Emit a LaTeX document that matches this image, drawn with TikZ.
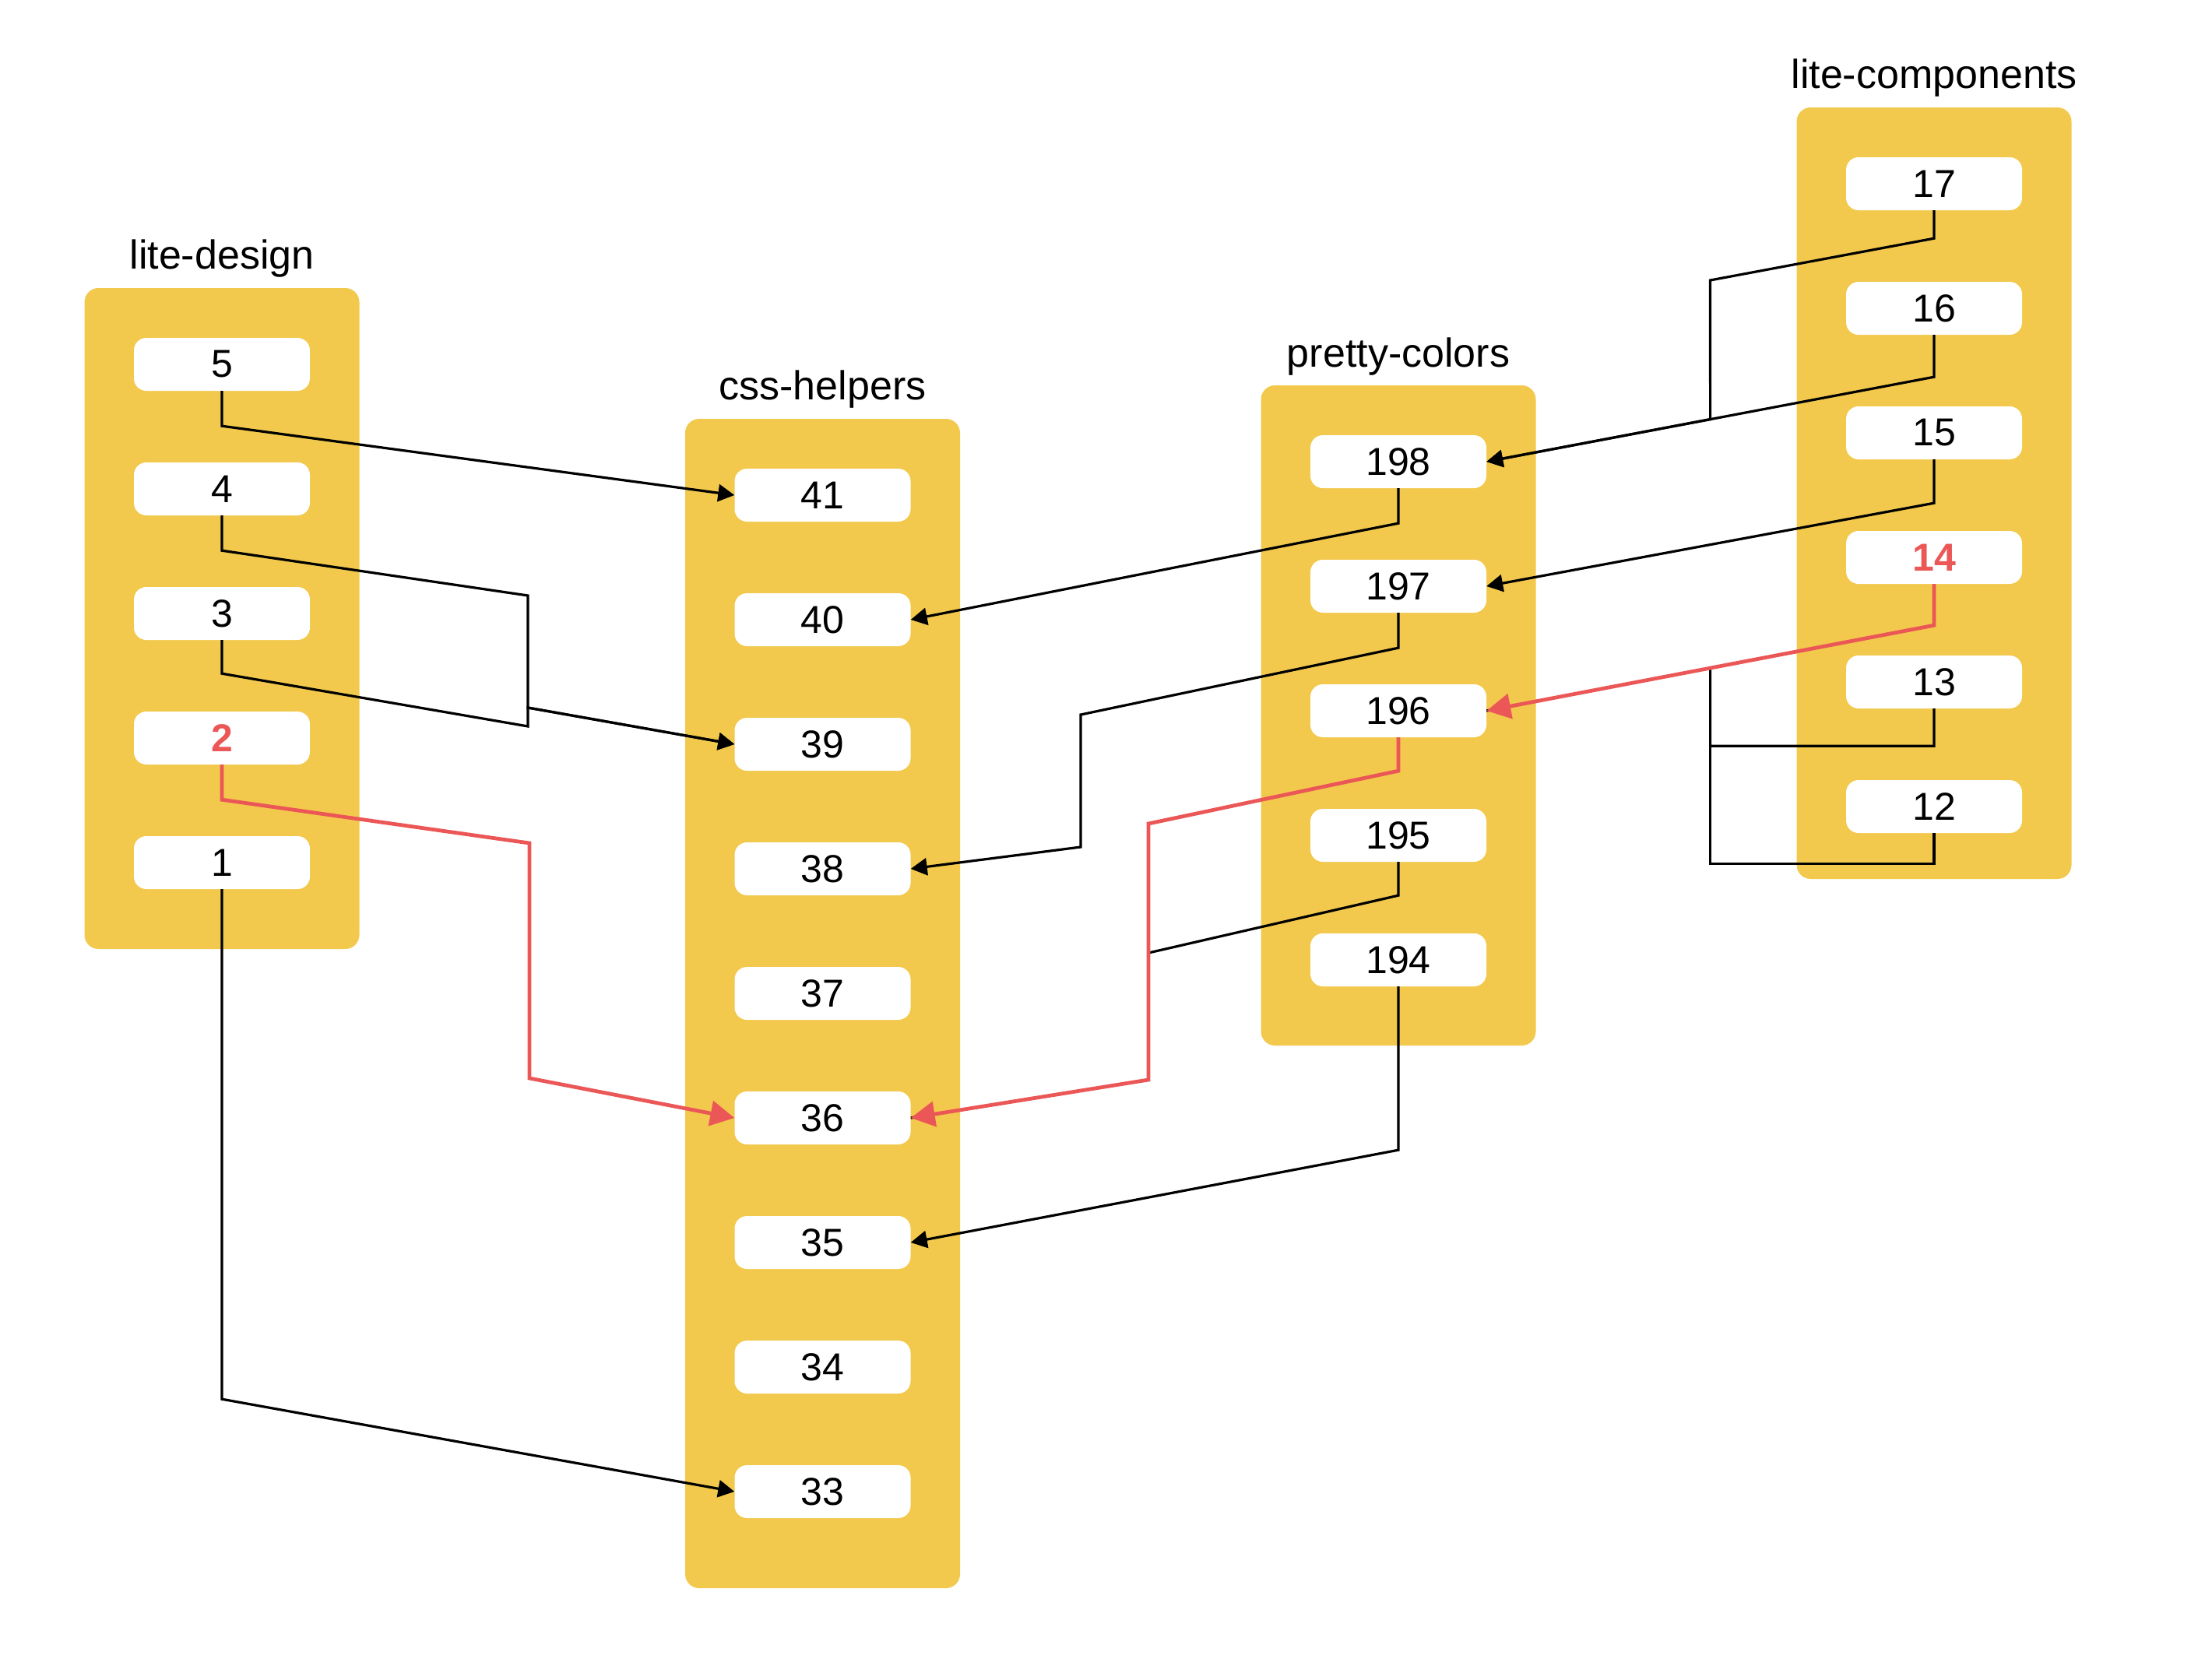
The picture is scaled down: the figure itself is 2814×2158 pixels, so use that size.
\documentclass[tikz,border=0pt]{standalone}
\usepackage{fontspec}
\setmainfont{Liberation Sans}
\usetikzlibrary{arrows.meta,calc}
\definecolor{pyellow}{HTML}{F2C94C}
\definecolor{pred}{HTML}{EB5757}
\begin{document}
\begin{tikzpicture}[x=1pt,y=-1pt,
  panel/.style={fill=pyellow, rounded corners=18pt, minimum width=353pt, inner sep=0pt},
  item/.style={fill=white, rounded corners=16pt, minimum width=226pt, minimum height=68pt, inner sep=0pt, font=\fontsize{50}{60}\selectfont},
  hot/.style={text=pred, font=\fontsize{50}{60}\selectfont\bfseries},
  title/.style={anchor=base, inner sep=0pt, font=\fontsize{52}{62}\selectfont},
  conn/.style={draw=black, line width=3.2pt},
  arr/.style={conn, -{Triangle[length=21pt,width=22pt]}},
  redarr/.style={draw=pred, line width=4.8pt, -{Triangle[length=31pt,width=32pt]}},
]
\useasboundingbox (0,0) rectangle (2814,2158);

% panels
\node[panel, minimum height=849pt]  (LD) at (285,794.5) {};
\node[panel, minimum height=1502pt] (CH) at (1056.5,1289) {};
\node[panel, minimum height=848pt]  (PC) at (1796,919) {};
\node[panel, minimum height=991pt]  (LC) at (2484,633.5) {};

% titles
\node[title] (tLD) at (285,345) {lite-design};
\node[title] (tCH) at (1056.5,513) {css-helpers};
\node[title] (tPC) at (1796,471) {pretty-colors};
\node[title] (tLC) at (2484,113) {lite-components};

% lite-design items
\foreach \n/\y in {5/468,4/628,3/788,1/1108}
  \node[item] (d\n) at (285,\y) {\n};
\node[item, hot] (d2) at (285,948) {2};

% css-helpers items
\foreach \n/\y in {41/636,40/796,39/956,38/1116,37/1276,36/1436,35/1596,34/1756,33/1916}
  \node[item] (c\n) at (1056.5,\y) {\n};

% pretty-colors items
\foreach \n/\y in {198/593,197/753,196/913,195/1073,194/1233}
  \node[item] (p\n) at (1796,\y) {\n};

% lite-components items
\foreach \n/\y in {17/236,16/396,15/556,13/876,12/1036}
  \node[item] (l\n) at (2484,\y) {\n};
\node[item, hot] (l14) at (2484,716) {14};

% lite-design -> css-helpers
\coordinate (j39) at (678,909);
\draw[arr] (d5.south) -- ++(0,45) -- (c41.west);
\draw[arr] (d4.south) -- ++(0,45) -- (678,765) -- (j39) -- (c39.west);
\draw[arr] (d3.south) -- ++(0,43) -- (678,933) -- (j39) -- (c39.west);
\draw[arr] (d1.south) -- ++(0,655) -- (c33.west);

% pretty-colors -> css-helpers
\draw[arr] (p198.south) -- ++(0,45) -- (c40.east);
\draw[arr] (p197.south) -- ++(0,45) -- (1388,918) -- (1388,1088) -- (c38.east);
\draw[conn] (p195.south) -- ++(0,43) -- (1475,1224) -- (1475,1387) -- (c36.east);
\draw[arr] (p194.south) -- ++(0,210) -- (c35.east);

% lite-components -> pretty-colors
\coordinate (k16) at ($(l16.south)+(0,54)$);
\coordinate (j198) at ($(k16)!0.5!(p198.east)$);
\draw[arr] (l16.south) -- (k16) -- (p198.east);
\draw[arr] (l17.south) -- ++(0,36) -- (2196.5,360) -- (j198) -- (p198.east);
\draw[arr] (l15.south) -- ++(0,56) -- (p197.east);
\coordinate (k14) at ($(l14.south)+(0,53)$);
\coordinate (j196) at ($(k14)!0.5!(p196.east)$);
\draw[conn] (l13.south) -- ++(0,48) -| (j196) -- (p196.east);
\draw[conn] (l12.south) -- ++(0,39) -| (j196);

% highlighted path
\draw[redarr] (d2.south) -- ++(0,45) -- (680,1083) -- (680,1385) -- (c36.west);
\draw[redarr] (p196.south) -- ++(0,43) -- (1475,1058) -- (1475,1387) -- (c36.east);
\draw[redarr] (l14.south) -- (k14) -- (p196.east);
\end{tikzpicture}
\end{document}
